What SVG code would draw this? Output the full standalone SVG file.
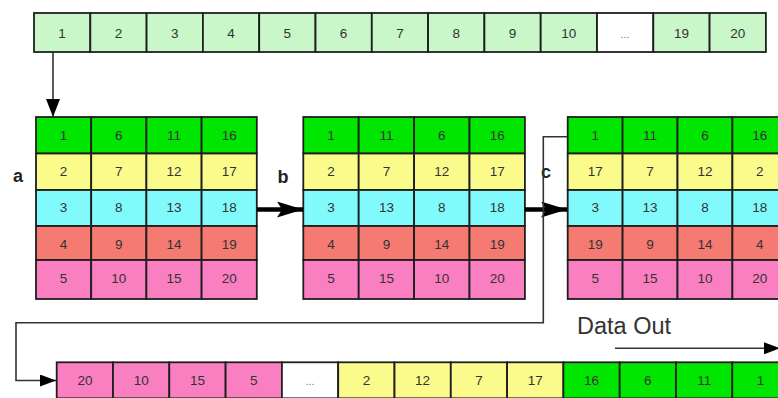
<svg xmlns="http://www.w3.org/2000/svg" width="778" height="398" viewBox="0 0 778 398">
  <style>
    .cell { stroke: #1e1e1e; stroke-width: 1.8; }
    .lg { fill: #c9f7c9; }
    .wh { fill: #ffffff; }
    .gr { fill: #00e600; }
    .ye { fill: #fbfb8c; }
    .cy { fill: #80fafa; }
    .rd { fill: #f57b72; }
    .pk { fill: #fa7fc0; }
    .num { font-family: "Liberation Sans", Arial, sans-serif; font-size: 13.5px; fill: #333; text-anchor: middle; dominant-baseline: central; }
    .dots { font-family: "Liberation Sans", Arial, sans-serif; font-size: 11px; fill: #777; text-anchor: middle; dominant-baseline: central; }
    .lbl { font-family: "Liberation Sans", Arial, sans-serif; font-size: 18px; font-weight: bold; fill: #222; text-anchor: middle; dominant-baseline: central; }
    .title { font-family: "Liberation Sans", Arial, sans-serif; font-size: 23.5px; fill: #333; }
    .thin { fill: none; stroke: #333; stroke-width: 1.6; }
    .thick { fill: none; stroke: #000; stroke-width: 4.5; }
  </style>
  <defs>
    <marker id="headSmall" viewBox="0 0 16 12" refX="16" refY="6" markerWidth="16" markerHeight="12" markerUnits="userSpaceOnUse" orient="auto">
      <path d="M0,0 L16,6 L0,12 Z" fill="#000"/>
    </marker>
    <marker id="headDown" viewBox="0 0 18 14" refX="18" refY="7" markerWidth="18" markerHeight="14" markerUnits="userSpaceOnUse" orient="auto">
      <path d="M0,0 L18,7 L0,14 Z" fill="#000"/>
    </marker>
    <marker id="headBig" viewBox="0 0 26 16" refX="26" refY="8" markerWidth="26" markerHeight="16" markerUnits="userSpaceOnUse" orient="auto">
      <path d="M0,0 L26,8 L0,16 L5,8 Z" fill="#000"/>
    </marker>
  </defs>

  <!-- input sequence -->
  <g id="input-row">
    <rect class="cell lg" x="34" y="13" width="56.3" height="39"/>
    <rect class="cell lg" x="90.3" y="13" width="56.3" height="39"/>
    <rect class="cell lg" x="146.6" y="13" width="56.3" height="39"/>
    <rect class="cell lg" x="202.9" y="13" width="56.3" height="39"/>
    <rect class="cell lg" x="259.2" y="13" width="56.3" height="39"/>
    <rect class="cell lg" x="315.5" y="13" width="56.3" height="39"/>
    <rect class="cell lg" x="371.8" y="13" width="56.3" height="39"/>
    <rect class="cell lg" x="428.1" y="13" width="56.3" height="39"/>
    <rect class="cell lg" x="484.4" y="13" width="56.3" height="39"/>
    <rect class="cell lg" x="540.7" y="13" width="56.3" height="39"/>
    <rect class="cell wh" x="597" y="13" width="56.3" height="39"/>
    <rect class="cell lg" x="653.3" y="13" width="56.3" height="39"/>
    <rect class="cell lg" x="709.6" y="13" width="56.3" height="39"/>
    <text class="num" x="62" y="33">1</text>
    <text class="num" x="118.5" y="33">2</text>
    <text class="num" x="174.8" y="33">3</text>
    <text class="num" x="231" y="33">4</text>
    <text class="num" x="287.3" y="33">5</text>
    <text class="num" x="343.6" y="33">6</text>
    <text class="num" x="400" y="33">7</text>
    <text class="num" x="456.2" y="33">8</text>
    <text class="num" x="512.5" y="33">9</text>
    <text class="num" x="568.8" y="33">10</text>
    <text class="dots" x="625" y="34">...</text>
    <text class="num" x="681.5" y="33">19</text>
    <text class="num" x="737.8" y="33">20</text>
  </g>

  <!-- matrix a: column-wise fill -->
  <g id="matrix-a">
    <rect class="cell gr" x="36" y="117" width="55.2" height="36.5"/>
    <rect class="cell gr" x="91.2" y="117" width="55.2" height="36.5"/>
    <rect class="cell gr" x="146.4" y="117" width="55.2" height="36.5"/>
    <rect class="cell gr" x="201.6" y="117" width="55.2" height="36.5"/>
    <rect class="cell ye" x="36" y="153.5" width="55.2" height="36.5"/>
    <rect class="cell ye" x="91.2" y="153.5" width="55.2" height="36.5"/>
    <rect class="cell ye" x="146.4" y="153.5" width="55.2" height="36.5"/>
    <rect class="cell ye" x="201.6" y="153.5" width="55.2" height="36.5"/>
    <rect class="cell cy" x="36" y="190" width="55.2" height="36"/>
    <rect class="cell cy" x="91.2" y="190" width="55.2" height="36"/>
    <rect class="cell cy" x="146.4" y="190" width="55.2" height="36"/>
    <rect class="cell cy" x="201.6" y="190" width="55.2" height="36"/>
    <rect class="cell rd" x="36" y="226" width="55.2" height="34"/>
    <rect class="cell rd" x="91.2" y="226" width="55.2" height="34"/>
    <rect class="cell rd" x="146.4" y="226" width="55.2" height="34"/>
    <rect class="cell rd" x="201.6" y="226" width="55.2" height="34"/>
    <rect class="cell pk" x="36" y="260" width="55.2" height="39"/>
    <rect class="cell pk" x="91.2" y="260" width="55.2" height="39"/>
    <rect class="cell pk" x="146.4" y="260" width="55.2" height="39"/>
    <rect class="cell pk" x="201.6" y="260" width="55.2" height="39"/>
    <text class="num" x="63.6" y="135">1</text>
    <text class="num" x="118.8" y="135">6</text>
    <text class="num" x="174" y="135">11</text>
    <text class="num" x="229.2" y="135">16</text>
    <text class="num" x="63.6" y="171.5">2</text>
    <text class="num" x="118.8" y="171.5">7</text>
    <text class="num" x="174" y="171.5">12</text>
    <text class="num" x="229.2" y="171.5">17</text>
    <text class="num" x="63.6" y="207.5">3</text>
    <text class="num" x="118.8" y="207.5">8</text>
    <text class="num" x="174" y="207.5">13</text>
    <text class="num" x="229.2" y="207.5">18</text>
    <text class="num" x="63.6" y="244">4</text>
    <text class="num" x="118.8" y="244">9</text>
    <text class="num" x="174" y="244">14</text>
    <text class="num" x="229.2" y="244">19</text>
    <text class="num" x="63.6" y="278.5">5</text>
    <text class="num" x="118.8" y="278.5">10</text>
    <text class="num" x="174" y="278.5">15</text>
    <text class="num" x="229.2" y="278.5">20</text>
  </g>

  <!-- matrix b: columns 2 and 3 swapped -->
  <g id="matrix-b">
    <rect class="cell gr" x="303.3" y="117" width="55.4" height="36.5"/>
    <rect class="cell gr" x="358.7" y="117" width="55.4" height="36.5"/>
    <rect class="cell gr" x="414.1" y="117" width="55.4" height="36.5"/>
    <rect class="cell gr" x="469.5" y="117" width="55.4" height="36.5"/>
    <rect class="cell ye" x="303.3" y="153.5" width="55.4" height="36.5"/>
    <rect class="cell ye" x="358.7" y="153.5" width="55.4" height="36.5"/>
    <rect class="cell ye" x="414.1" y="153.5" width="55.4" height="36.5"/>
    <rect class="cell ye" x="469.5" y="153.5" width="55.4" height="36.5"/>
    <rect class="cell cy" x="303.3" y="190" width="55.4" height="36"/>
    <rect class="cell cy" x="358.7" y="190" width="55.4" height="36"/>
    <rect class="cell cy" x="414.1" y="190" width="55.4" height="36"/>
    <rect class="cell cy" x="469.5" y="190" width="55.4" height="36"/>
    <rect class="cell rd" x="303.3" y="226" width="55.4" height="34"/>
    <rect class="cell rd" x="358.7" y="226" width="55.4" height="34"/>
    <rect class="cell rd" x="414.1" y="226" width="55.4" height="34"/>
    <rect class="cell rd" x="469.5" y="226" width="55.4" height="34"/>
    <rect class="cell pk" x="303.3" y="260" width="55.4" height="39"/>
    <rect class="cell pk" x="358.7" y="260" width="55.4" height="39"/>
    <rect class="cell pk" x="414.1" y="260" width="55.4" height="39"/>
    <rect class="cell pk" x="469.5" y="260" width="55.4" height="39"/>
    <text class="num" x="331" y="135">1</text>
    <text class="num" x="386.4" y="135">11</text>
    <text class="num" x="441.8" y="135">6</text>
    <text class="num" x="497.2" y="135">16</text>
    <text class="num" x="331" y="171.5">2</text>
    <text class="num" x="386.4" y="171.5">7</text>
    <text class="num" x="441.8" y="171.5">12</text>
    <text class="num" x="497.2" y="171.5">17</text>
    <text class="num" x="331" y="207.5">3</text>
    <text class="num" x="386.4" y="207.5">13</text>
    <text class="num" x="441.8" y="207.5">8</text>
    <text class="num" x="497.2" y="207.5">18</text>
    <text class="num" x="331" y="244">4</text>
    <text class="num" x="386.4" y="244">9</text>
    <text class="num" x="441.8" y="244">14</text>
    <text class="num" x="497.2" y="244">19</text>
    <text class="num" x="331" y="278.5">5</text>
    <text class="num" x="386.4" y="278.5">15</text>
    <text class="num" x="441.8" y="278.5">10</text>
    <text class="num" x="497.2" y="278.5">20</text>
  </g>

  <!-- matrix c: rows 2 and 4 with outer entries swapped -->
  <g id="matrix-c">
    <rect class="cell gr" x="567.7" y="117" width="54.9" height="36.5"/>
    <rect class="cell gr" x="622.6" y="117" width="54.9" height="36.5"/>
    <rect class="cell gr" x="677.5" y="117" width="54.9" height="36.5"/>
    <rect class="cell gr" x="732.4" y="117" width="54.9" height="36.5"/>
    <rect class="cell ye" x="567.7" y="153.5" width="54.9" height="36.5"/>
    <rect class="cell ye" x="622.6" y="153.5" width="54.9" height="36.5"/>
    <rect class="cell ye" x="677.5" y="153.5" width="54.9" height="36.5"/>
    <rect class="cell ye" x="732.4" y="153.5" width="54.9" height="36.5"/>
    <rect class="cell cy" x="567.7" y="190" width="54.9" height="36"/>
    <rect class="cell cy" x="622.6" y="190" width="54.9" height="36"/>
    <rect class="cell cy" x="677.5" y="190" width="54.9" height="36"/>
    <rect class="cell cy" x="732.4" y="190" width="54.9" height="36"/>
    <rect class="cell rd" x="567.7" y="226" width="54.9" height="34"/>
    <rect class="cell rd" x="622.6" y="226" width="54.9" height="34"/>
    <rect class="cell rd" x="677.5" y="226" width="54.9" height="34"/>
    <rect class="cell rd" x="732.4" y="226" width="54.9" height="34"/>
    <rect class="cell pk" x="567.7" y="260" width="54.9" height="39"/>
    <rect class="cell pk" x="622.6" y="260" width="54.9" height="39"/>
    <rect class="cell pk" x="677.5" y="260" width="54.9" height="39"/>
    <rect class="cell pk" x="732.4" y="260" width="54.9" height="39"/>
    <text class="num" x="595.2" y="135">1</text>
    <text class="num" x="650" y="135">11</text>
    <text class="num" x="705" y="135">6</text>
    <text class="num" x="759.8" y="135">16</text>
    <text class="num" x="595.2" y="171.5">17</text>
    <text class="num" x="650" y="171.5">7</text>
    <text class="num" x="705" y="171.5">12</text>
    <text class="num" x="759.8" y="171.5">2</text>
    <text class="num" x="595.2" y="207.5">3</text>
    <text class="num" x="650" y="207.5">13</text>
    <text class="num" x="705" y="207.5">8</text>
    <text class="num" x="759.8" y="207.5">18</text>
    <text class="num" x="595.2" y="244">19</text>
    <text class="num" x="650" y="244">9</text>
    <text class="num" x="705" y="244">14</text>
    <text class="num" x="759.8" y="244">4</text>
    <text class="num" x="595.2" y="278.5">5</text>
    <text class="num" x="650" y="278.5">15</text>
    <text class="num" x="705" y="278.5">10</text>
    <text class="num" x="759.8" y="278.5">20</text>
  </g>

  <!-- output sequence -->
  <g id="output-row">
    <rect class="cell pk" x="56.7" y="362.3" width="56.3" height="36"/>
    <rect class="cell pk" x="113" y="362.3" width="56.3" height="36"/>
    <rect class="cell pk" x="169.3" y="362.3" width="56.3" height="36"/>
    <rect class="cell pk" x="225.6" y="362.3" width="56.3" height="36"/>
    <rect class="cell wh" x="281.9" y="362.3" width="56.3" height="36"/>
    <rect class="cell ye" x="338.2" y="362.3" width="56.3" height="36"/>
    <rect class="cell ye" x="394.5" y="362.3" width="56.3" height="36"/>
    <rect class="cell ye" x="450.8" y="362.3" width="56.3" height="36"/>
    <rect class="cell ye" x="507.1" y="362.3" width="56.3" height="36"/>
    <rect class="cell gr" x="563.4" y="362.3" width="56.3" height="36"/>
    <rect class="cell gr" x="619.7" y="362.3" width="56.3" height="36"/>
    <rect class="cell gr" x="676" y="362.3" width="56.3" height="36"/>
    <rect class="cell gr" x="732.3" y="362.3" width="56.3" height="36"/>
    <text class="num" x="85" y="380">20</text>
    <text class="num" x="141.2" y="380">10</text>
    <text class="num" x="197.5" y="380">15</text>
    <text class="num" x="253.8" y="380">5</text>
    <text class="dots" x="310" y="381">...</text>
    <text class="num" x="366.4" y="380">2</text>
    <text class="num" x="422.6" y="380">12</text>
    <text class="num" x="479" y="380">7</text>
    <text class="num" x="535.2" y="380">17</text>
    <text class="num" x="591.5" y="380">16</text>
    <text class="num" x="647.8" y="380">6</text>
    <text class="num" x="704.2" y="380">11</text>
    <text class="num" x="760.5" y="380">1</text>
  </g>

  <!-- stage labels -->
  <g id="labels">
    <text class="lbl" x="18" y="176">a</text>
    <text class="lbl" x="283" y="177">b</text>
    <text class="lbl" x="546" y="172">c</text>
    <text class="title" x="577" y="334">Data Out</text>
  </g>

  <!-- connectors -->
  <g id="connectors">
    <path class="thin" d="M53,52 V117" marker-end="url(#headDown)"/>
    <path class="thick" d="M257,209.5 H303" marker-end="url(#headBig)"/>
    <path class="thick" d="M525,209.5 H567" marker-end="url(#headBig)"/>
    <path class="thin" d="M567,136.7 H543.3 V322.7 H16 V380.5 H56" marker-end="url(#headSmall)"/>
    <path class="thin" d="M615,348.3 H780" marker-end="url(#headSmall)"/>
  </g>
</svg>
